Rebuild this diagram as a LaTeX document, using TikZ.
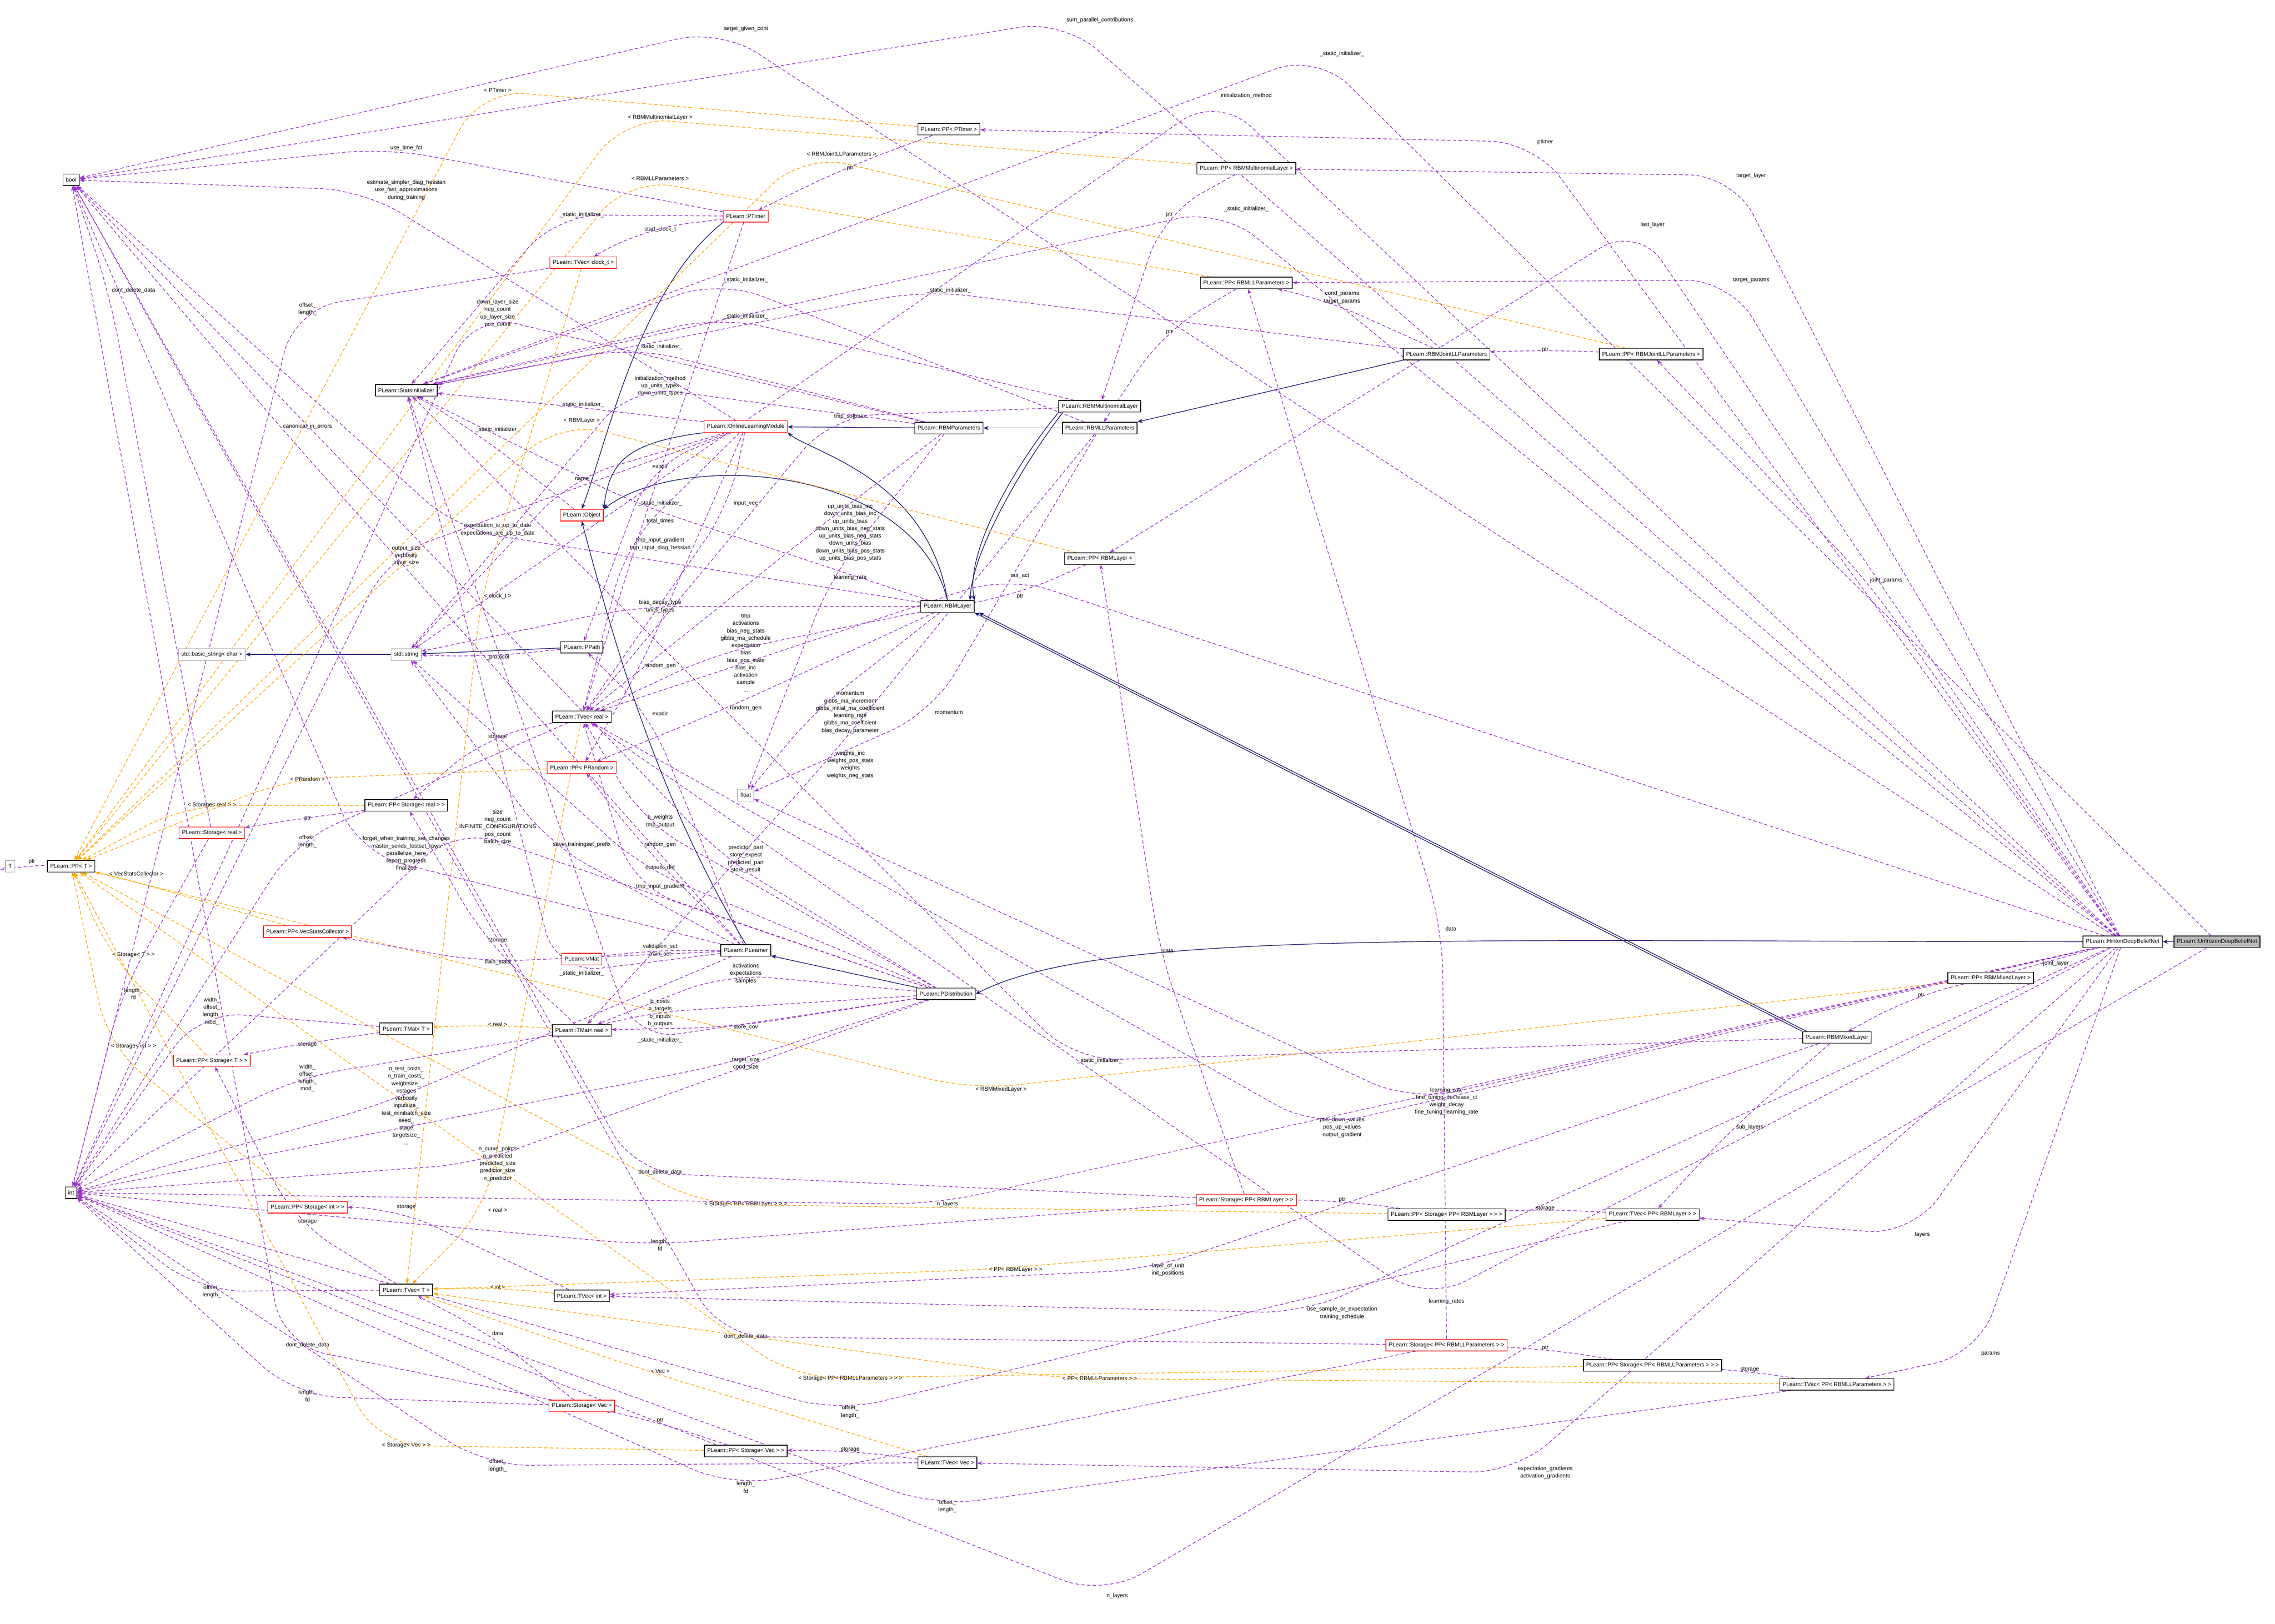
\documentclass[tikz,border=0pt]{standalone}
\usepackage{fontspec}
\setmainfont{Liberation Sans}
\usetikzlibrary{calc,arrows.meta}
\definecolor{pu}{RGB}{154,50,205}
\definecolor{og}{RGB}{255,165,0}
\definecolor{nv}{RGB}{25,25,112}
\pgfdeclarelayer{bg}
\pgfdeclarelayer{edges}
\pgfsetlayers{bg,edges,main}
\tikzset{
 cls/.style={draw=black,line width=0.45mm,inner xsep=2mm,inner ysep=0mm,minimum height=8mm,font=\fontsize{11}{13}\selectfont,fill=white},
 redc/.style={cls,draw=red},
 grayc/.style={cls,draw=gray!60},
 lab/.style={font=\fontsize{11}{14.5}\selectfont,align=center,inner sep=0.6mm},
 pe/.style={pu,line width=0.45mm,dash pattern=on 2.4mm off 1.6mm,-{Stealth[length=3.5mm,width=2.6mm]}},
 oe/.style={og,line width=0.45mm,dash pattern=on 2.4mm off 1.6mm,-{Stealth[length=3.5mm,width=2.6mm]}},
 ie/.style={nv,line width=0.45mm,-{Stealth[length=3.5mm,width=2.8mm]}},
}
\begin{document}
\begin{tikzpicture}[x=1mm,y=1mm]
\def\myE#1#2#3#4#5{\begin{pgfonlayer}{edges}\node[lab] (LB) at #3 {#5};
 \coordinate (LP) at ([xshift=-1.5mm]LB.west);
 \draw[#1,rounded corners=30mm] (#2) -- (LP) -- (#4);\end{pgfonlayer}}
\useasboundingbox (0,0) rectangle (1568,-1119);
\begin{pgfonlayer}{bg}\fill[white] (0,0) rectangle (1568,-1119);\end{pgfonlayer}
% nodes
\node[cls] (bool) at (49,-124) {bool};
\node[redc] (ptimer) at (514,-149) {PLearn::PTimer};
\node[cls] (pptimer) at (654,-89) {PLearn::PP< PTimer >};
\node[cls] (ppmult) at (859,-116) {PLearn::PP< RBMMultinomialLayer >};
\node[redc] (tvclock) at (402,-181) {PLearn::TVec< clock\_t >};
\node[cls] (ppll) at (859,-195) {PLearn::PP< RBMLLParameters >};
\node[cls] (joint) at (997,-244) {PLearn::RBMJointLLParameters};
\node[cls] (ppjoint) at (1138,-244) {PLearn::PP< RBMJointLLParameters >};
\node[cls] (stats) at (280,-269) {PLearn::StatsInitializer};
\node[redc] (olm) at (514,-294) {PLearn::OnlineLearningModule};
\node[cls] (rbmp) at (654,-295) {PLearn::RBMParameters};
\node[cls] (mult) at (758,-280) {PLearn::RBMMultinomialLayer};
\node[cls] (llp) at (758,-295) {PLearn::RBMLLParameters};
\node[redc] (object) at (401,-355) {PLearn::Object};
\node[cls] (pprbml) at (758,-385) {PLearn::PP< RBMLayer >};
\node[cls] (rbml) at (653,-418) {PLearn::RBMLayer};
\node[grayc] (bstr) at (146,-451) {std::basic\_string< char >};
\node[grayc] (str) at (280,-451) {std::string};
\node[cls] (ppath) at (401,-446) {PLearn::PPath};
\node[cls] (tvreal) at (401,-494) {PLearn::TVec< real >};
\node[redc] (pprand) at (401,-529) {PLearn::PP< PRandom >};
\node[grayc] (float) at (514,-548) {float};
\node[cls] (ppstreal) at (280,-555) {PLearn::PP< Storage< real > >};
\node[redc] (streal) at (146,-574) {PLearn::Storage< real >};
\node[grayc] (T) at (7,-597) {T};
\node[cls] (ppT) at (49,-597) {PLearn::PP< T >};
\node[redc] (ppvsc) at (212,-642) {PLearn::PP< VecStatsCollector >};
\node[redc] (vmat) at (401,-661) {PLearn::VMat};
\node[cls] (plearner) at (514,-655) {PLearn::PLearner};
\node[cls] (pdist) at (652,-685) {PLearn::PDistribution};
\node[cls] (hinton) at (1463,-649) {PLearn::HintonDeepBeliefNet};
\node[cls,fill=gray!55] (unfrozen) at (1528,-649) {PLearn::UnfrozenDeepBeliefNet};
\node[cls] (ppmixed) at (1372,-674) {PLearn::PP< RBMMixedLayer >};
\node[cls] (mixed) at (1266,-715) {PLearn::RBMMixedLayer};
\node[cls] (tmatT) at (280,-709) {PLearn::TMat< T >};
\node[cls] (tmatreal) at (401,-710) {PLearn::TMat< real >};
\node[redc] (ppstT) at (146,-731) {PLearn::PP< Storage< T > >};
\node[cls] (int) at (49,-822) {int};
\node[redc] (ppstint) at (212,-832) {PLearn::PP< Storage< int > >};
\node[redc] (stpprbml) at (859,-827) {PLearn::Storage< PP< RBMLayer > >};
\node[cls] (ppstpprbml) at (997,-837) {PLearn::PP< Storage< PP< RBMLayer > > >};
\node[cls] (tvpprbml) at (1139,-837) {PLearn::TVec< PP< RBMLayer > >};
\node[cls] (tvT) at (280,-889) {PLearn::TVec< T >};
\node[cls] (tvint) at (401,-893) {PLearn::TVec< int >};
\node[redc] (stppll) at (997,-927) {PLearn::Storage< PP< RBMLLParameters > >};
\node[cls] (ppstppll) at (1139,-941) {PLearn::PP< Storage< PP< RBMLLParameters > > >};
\node[cls] (tvppll) at (1266,-954) {PLearn::TVec< PP< RBMLLParameters > >};
\node[redc] (stvec) at (401,-969) {PLearn::Storage< Vec >};
\node[cls] (ppstvec) at (514,-1000) {PLearn::PP< Storage< Vec > >};
\node[cls] (tvvec) at (653,-1008) {PLearn::TVec< Vec >};
% inheritance
\begin{pgfonlayer}{edges}
\draw[ie] (unfrozen) -- (hinton);
\draw[ie] (hinton.west) .. controls (1000,-649) and (760,-640) .. (pdist.east);
\draw[ie] (pdist) -- (plearner);
\draw[ie] (plearner.north) .. controls (460,-560) and (430,-470) .. (object.south);
\draw[ie] (olm.south west) .. controls (430,-305) and (420,-320) .. (object.north east);
\draw[ie] (rbml.north) .. controls (640,-330) and (560,-312) .. (olm.south east);
\draw[ie] (rbml.north) .. controls (630,-320) and (470,-310) .. (object.north east);
\draw[ie] (rbmp) -- (olm);
\draw[ie] (llp) -- (rbmp);
\draw[ie] (joint.south west) -- (llp.north east);
\draw[ie] (mult.south west) .. controls (700,-320) and (665,-380) .. (rbml.north east);
\draw[ie] ([xshift=3mm]mult.south west) .. controls (705,-320) and (670,-380) .. ([xshift=-3mm]rbml.north east);
\draw[ie] (mixed.north west) -- (rbml.south east);
\draw[ie] ([xshift=3mm]mixed.north west) -- ([xshift=3mm]rbml.south east);
\draw[ie] (ptimer.south west) .. controls (440,-200) and (420,-300) .. (object.north);
\draw[ie] (ppath) -- (str);
\draw[ie] (str) -- (bstr);
\end{pgfonlayer}
% orange template edges
\myE{oe}{tvreal}{(343,-834)}{tvT}{< real >}
\myE{oe}{tvint}{(343,-887)}{tvT}{< int >}
\myE{oe}{tvvec}{(455,-945)}{tvT}{< Vec >}
\myE{oe}{tvpprbml}{(700,-875)}{tvT}{< PP< RBMLayer > >}
\myE{oe}{tvppll}{(758,-950)}{tvT}{< PP< RBMLLParameters > >}
\myE{oe}{tvclock}{(343,-411)}{tvT}{< clock\_t >}
\myE{oe}{tmatreal}{(343,-706)}{tmatT}{< real >}
\myE{oe}{ppstreal}{(146,-555)}{ppT}{< Storage< real > >}
\myE{oe}{pprand}{(212,-537)}{ppT}{< PRandom >}
\myE{oe}{ppvsc}{(94,-602)}{ppT}{< VecStatsCollector >}
\myE{oe}{ppstT}{(92,-658)}{ppT}{< Storage< T > >}
\myE{oe}{ppstint}{(92,-721)}{ppT}{< Storage< int > >}
\myE{oe}{ppstvec}{(280,-996)}{ppT}{< Storage< Vec > >}
\myE{oe}{ppstpprbml}{(514,-830)}{ppT}{< Storage< PP< RBMLayer > > >}
\myE{oe}{ppstppll}{(586,-950)}{ppT}{< Storage< PP< RBMLLParameters > > >}
\myE{oe}{pptimer}{(343,-62)}{ppT}{< PTimer >}
\myE{oe}{ppmult}{(455,-81)}{ppT}{< RBMMultinomialLayer >}
\myE{oe}{ppjoint}{(580,-106)}{ppT}{< RBMJointLLParameters >}
\myE{oe}{ppll}{(455,-123)}{ppT}{< RBMLLParameters >}
\myE{oe}{pprbml}{(401,-290)}{ppT}{< RBMLayer >}
\myE{oe}{ppmixed}{(690,-751)}{ppT}{< RBMMixedLayer >}
% purple usage edges: Hinton / Unfrozen
\myE{pe}{hinton}{(758,-14)}{bool}{sum\_parallel\_contributions}
\myE{pe}{unfrozen}{(925,-37)}{stats}{\_static\_initializer\_}
\myE{pe}{hinton}{(514,-20)}{bool}{target\_given\_cont}
\myE{pe}{hinton}{(859,-66)}{str}{initialization\_method}
\myE{pe}{hinton}{(1065,-98)}{pptimer}{ptimer}
\myE{pe}{hinton}{(1207,-121)}{ppmult}{target\_layer}
\myE{pe}{hinton}{(859,-144)}{stats}{\_static\_initializer\_}
\myE{pe}{hinton}{(1139,-155)}{pprbml}{last\_layer}
\myE{pe}{hinton}{(1207,-193)}{ppll}{target\_params}
\myE{pe}{hinton}{(1300,-400)}{ppjoint}{joint\_params}
\myE{pe}{hinton}{(1417,-664)}{ppmixed}{joint\_layer}
\myE{pe}{hinton}{(1325,-851)}{tvpprbml}{layers}
\myE{pe}{hinton}{(1372,-933)}{tvppll}{params}
\myE{pe}{hinton}{(925,-905)}{tvint}{use\_sample\_or\_expectation\\training\_schedule}
\myE{pe}{hinton}{(997,-897)}{tvreal}{learning\_rates}
\myE{pe}{hinton}{(1065,-1015)}{tvvec}{expectation\_gradients\\activation\_gradients}
\myE{pe}{unfrozen}{(770,-1100)}{int}{n\_layers}
\myE{pe}{hinton}{(653,-830)}{int}{n\_layers}
\myE{pe}{hinton}{(997,-759)}{float}{learning\_rate\\fine\_tuning\_decrease\_ct\\weight\_decay\\fine\_tuning\_learning\_rate}
\myE{pe}{hinton}{(925,-777)}{tvreal}{pos\_down\_values\\pos\_up\_values\\output\_gradient}
\myE{pe}{hinton}{(703,-397)}{tvreal}{out\_act}
% mixed layer
\myE{pe}{mixed}{(1206,-777)}{tvpprbml}{sub\_layers}
\myE{pe}{mixed}{(758,-731)}{stats}{\_static\_initializer\_}
\myE{pe}{mixed}{(805,-875)}{tvint}{layer\_of\_unit\\init\_positions}
\myE{pe}{ppmixed}{(1324,-686)}{mixed}{ptr}
% containers
\myE{pe}{tvpprbml}{(1065,-833)}{ppstpprbml}{storage}
\myE{pe}{ppstpprbml}{(925,-827)}{stpprbml}{ptr}
\myE{pe}{tvppll}{(1206,-944)}{ppstppll}{storage}
\myE{pe}{ppstppll}{(1065,-929)}{stppll}{ptr}
\myE{pe}{tvvec}{(586,-999)}{ppstvec}{storage}
\myE{pe}{ppstvec}{(455,-979)}{stvec}{ptr}
\myE{pe}{stvec}{(343,-919)}{tvT}{data}
\myE{pe}{stpprbml}{(805,-655)}{pprbml}{data}
\myE{pe}{stppll}{(1000,-640)}{ppll}{data}
\myE{pe}{tvT}{(146,-890)}{int}{offset\_\\length\_}
\myE{pe}{tvT}{(212,-842)}{ppstT}{storage}
\myE{pe}{tvint}{(280,-832)}{ppstint}{storage}
\myE{pe}{tmatT}{(212,-720)}{ppstT}{storage}
\myE{pe}{tmatT}{(146,-697)}{int}{width\_\\offset\_\\length\_\\mod\_}
\myE{pe}{tmatreal}{(212,-743)}{int}{width\_\\offset\_\\length\_\\mod\_}
\myE{pe}{tmatreal}{(343,-648)}{ppstreal}{storage}
\myE{pe}{tvreal}{(343,-508)}{ppstreal}{storage}
\myE{pe}{tvreal}{(212,-580)}{int}{offset\_\\length\_}
\myE{pe}{ppstreal}{(212,-564)}{streal}{ptr}
\myE{pe}{ppT}{(22,-594)}{T}{ptr}
\myE{pe}{streal}{(92,-200)}{bool}{dont\_delete\_data}
\myE{pe}{streal}{(92,-685)}{int}{length\_\\fd}
\myE{pe}{stpprbml}{(455,-808)}{bool}{dont\_delete\_data}
\myE{pe}{stppll}{(514,-921)}{bool}{dont\_delete\_data}
\myE{pe}{stvec}{(212,-927)}{bool}{dont\_delete\_data}
\myE{pe}{stpprbml}{(455,-858)}{int}{length\_\\fd}
\myE{pe}{stvec}{(212,-962)}{int}{length\_\\fd}
\myE{pe}{stppll}{(514,-1025)}{int}{length\_\\fd}
\myE{pe}{tvvec}{(343,-1010)}{int}{offset\_\\length\_}
\myE{pe}{tvppll}{(653,-1038)}{int}{offset\_\\length\_}
\myE{pe}{tvpprbml}{(586,-973)}{int}{offset\_\\length\_}
\myE{pe}{tvclock}{(212,-213)}{int}{offset\_\\length\_}
\myE{pe}{ppath}{(343,-453)}{str}{\_protocol}
% timer
\myE{pe}{ptimer}{(455,-158)}{tvclock}{start\_clock\_t}
\myE{pe}{ptimer}{(280,-102)}{bool}{use\_time\_fct}
\myE{pe}{ptimer}{(401,-148)}{stats}{\_static\_initializer\_}
\myE{pe}{ptimer}{(455,-359)}{tvreal}{total\_times}
\myE{pe}{pptimer}{(586,-116)}{ptimer}{ptr}
\myE{pe}{ppmult}{(806,-148)}{mult}{ptr}
\myE{pe}{ppll}{(806,-229)}{llp}{ptr}
\myE{pe}{ppjoint}{(1065,-241)}{joint}{ptr}
\myE{pe}{joint}{(925,-205)}{ppll}{cond\_params\\target\_params}
\myE{pe}{joint}{(654,-200)}{stats}{\_static\_initializer\_}
\myE{pe}{pprbml}{(703,-411)}{rbml}{ptr}
% RBM classes
\myE{pe}{mult}{(586,-287)}{tvreal}{tmp\_softmax}
\myE{pe}{mult}{(514,-218)}{stats}{\_static\_initializer\_}
\myE{pe}{llp}{(514,-193)}{stats}{\_static\_initializer\_}
\myE{pe}{rbmp}{(455,-239)}{stats}{\_static\_initializer\_}
\myE{pe}{rbmp}{(455,-266)}{str}{initialization\_method\\up\_units\_types\\down\_units\_types}
\myE{pe}{rbmp}{(586,-367)}{tvreal}{up\_units\_bias\_inc\\down\_units\_bias\_inc\\up\_units\_bias\\down\_units\_bias\_neg\_stats\\up\_units\_bias\_neg\_stats\\down\_units\_bias\\down\_units\_bias\_pos\_stats\\up\_units\_bias\_pos\_stats}
\myE{pe}{rbmp}{(586,-398)}{float}{learning\_rate}
\myE{pe}{rbmp}{(343,-216)}{int}{down\_layer\_size\\neg\_count\\up\_layer\_size\\pos\_count}
\myE{pe}{llp}{(586,-527)}{tmatreal}{weights\_inc\\weights\_pos\_stats\\weights\\weights\_neg\_stats}
\myE{pe}{llp}{(654,-491)}{float}{momentum}
\myE{pe}{rbml}{(586,-491)}{float}{momentum\\gibbs\_ma\_increment\\gibbs\_initial\_ma\_coefficient\\learning\_rate\\gibbs\_ma\_coefficient\\bias\_decay\_parameter}
\myE{pe}{rbml}{(514,-450)}{tvreal}{tmp\\activations\\bias\_neg\_stats\\gibbs\_ma\_schedule\\expectation\\bias\\bias\_pos\_stats\\bias\_inc\\activation\\sample\\...}
\myE{pe}{rbml}{(455,-418)}{str}{bias\_decay\_type\\units\_types}
\myE{pe}{rbml}{(343,-365)}{bool}{expectation\_is\_up\_to\_date\\expectations\_are\_up\_to\_date}
\myE{pe}{rbml}{(514,-488)}{pprand}{random\_gen}
\myE{pe}{rbml}{(455,-347)}{stats}{\_static\_initializer\_}
\myE{pe}{olm}{(401,-279)}{stats}{\_static\_initializer\_}
\myE{pe}{olm}{(455,-375)}{tvreal}{tmp\_input\_gradient\\tmp\_input\_diag\_hessian}
\myE{pe}{olm}{(280,-383)}{int}{output\_size\\verbosity\\input\_size}
\myE{pe}{olm}{(280,-131)}{bool}{estimate\_simpler\_diag\_hessian\\use\_fast\_approximations\\during\_training}
\myE{pe}{olm}{(455,-459)}{pprand}{random\_gen}
\myE{pe}{olm}{(455,-322)}{ppath}{expdir}
\myE{pe}{olm}{(514,-347)}{tvreal}{input\_vec}
\myE{pe}{object}{(343,-296)}{stats}{\_static\_initializer\_}
\myE{pe}{olm}{(401,-330)}{str}{name}
% learner / distribution
\myE{pe}{plearner}{(455,-492)}{ppath}{expdir}
\myE{pe}{plearner}{(455,-582)}{pprand}{random\_gen}
\myE{pe}{plearner}{(455,-655)}{vmat}{validation\_set\\train\_set}
\myE{pe}{plearner}{(343,-663)}{ppvsc}{train\_stats}
\myE{pe}{plearner}{(401,-671)}{stats}{\_static\_initializer\_}
\myE{pe}{plearner}{(280,-588)}{bool}{forget\_when\_training\_set\_changes\\master\_sends\_testset\_rows\\parallelize\_here\\report\_progress\\finalized}
\myE{pe}{plearner}{(280,-762)}{int}{n\_test\_costs\_\\n\_train\_costs\_\\weightsize\_\\nstages\\verbosity\\inputsize\_\\test\_minibatch\_size\\seed\_\\stage\\targetsize\_\\...}
\myE{pe}{plearner}{(401,-582)}{str}{save\_trainingset\_prefix}
\myE{pe}{plearner}{(212,-294)}{bool}{canonical\_in\_errors}
\myE{pe}{pdist}{(343,-570)}{int}{size\\neg\_count\\INFINITE\_CONFIGURATIONS\\pos\_count\\batch\_size}
\myE{pe}{pdist}{(455,-598)}{str}{outputs\_def}
\myE{pe}{pdist}{(455,-566)}{tvreal}{b\_weights\\tmp\_output}
\myE{pe}{pdist}{(514,-592)}{bool}{predictor\_part\\store\_expect\\predicted\_part\\store\_result}
\myE{pe}{pdist}{(514,-671)}{tmatreal}{activations\\expectations\\samples}
\myE{pe}{pdist}{(455,-698)}{tmatreal}{b\_costs\\b\_targets\\b\_inputs\\b\_outputs}
\myE{pe}{pdist}{(514,-708)}{tmatreal}{store\_cov}
\myE{pe}{pdist}{(514,-733)}{int}{target\_size\\cond\_size}
\myE{pe}{pdist}{(343,-802)}{int}{n\_curve\_points\\n\_predicted\\predicted\_size\\predictor\_size\\n\_predictor}
\myE{pe}{pdist}{(455,-611)}{tvreal}{tmp\_input\_gradient}
\myE{pe}{pdist}{(455,-717)}{stats}{\_static\_initializer\_}
\end{tikzpicture}
\end{document}
